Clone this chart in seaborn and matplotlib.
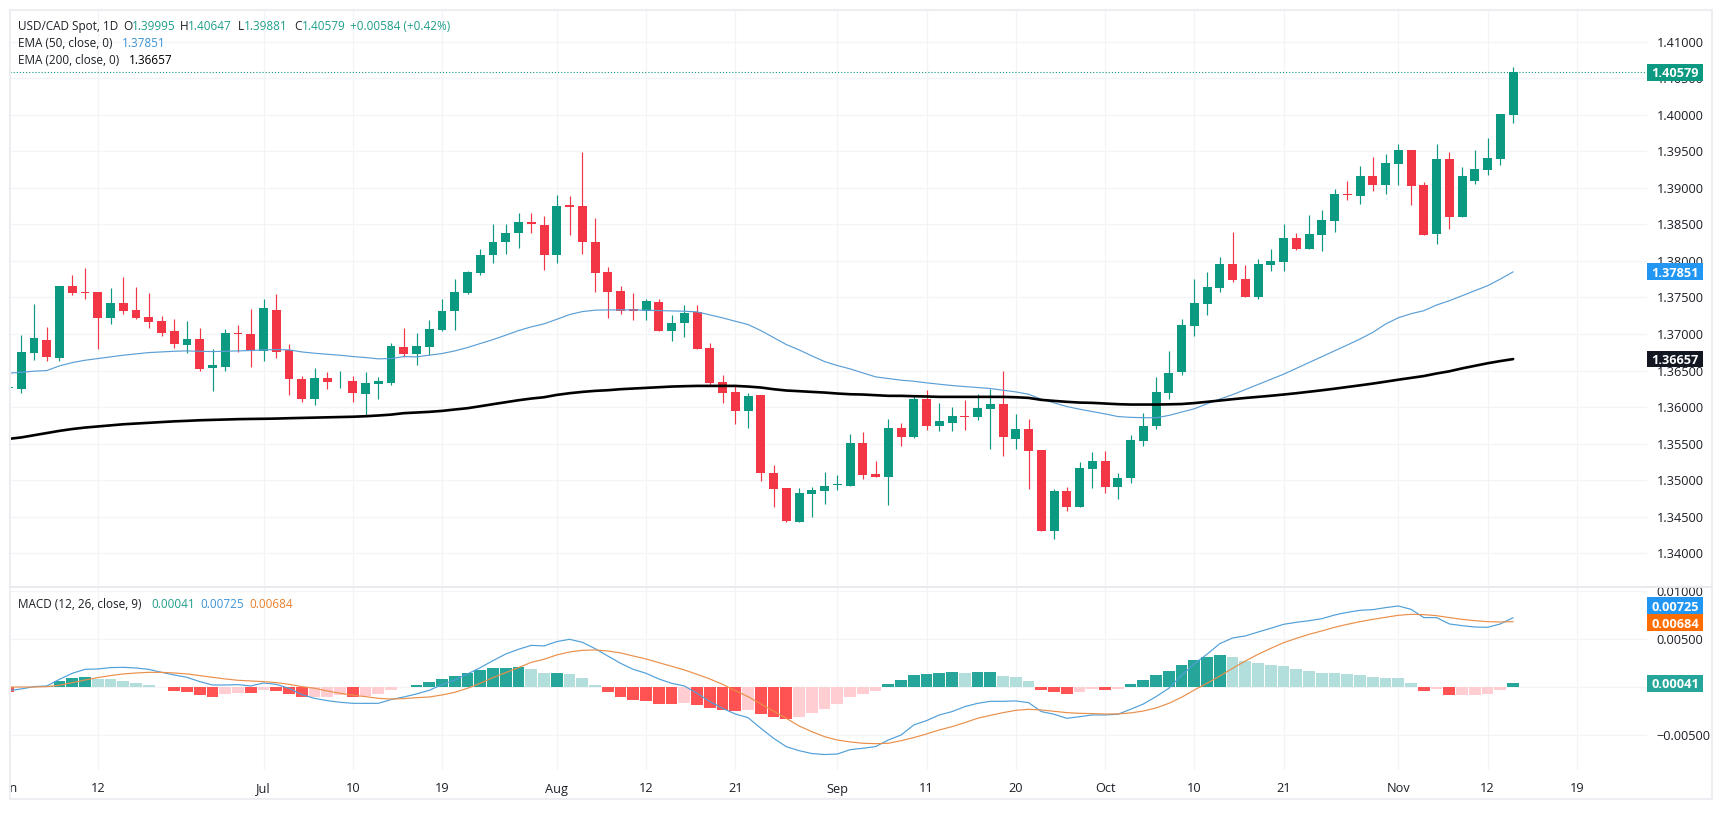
import matplotlib
matplotlib.use("Agg")
import matplotlib.pyplot as plt
from matplotlib.patches import Rectangle
from matplotlib.lines import Line2D
from matplotlib.transforms import IdentityTransform, Bbox
import numpy as np
import pandas as pd
import seaborn as sns

opens = [1.36268,1.36254,1.36746,1.36920,1.36678,1.37658,1.37576,1.37576,1.37225,1.37426,1.37325,1.37234,1.37179,1.37043,1.36856,1.36933,1.36541,1.36555,1.37011,1.37002,
1.36774,1.37330,1.36783,1.36378,1.36105,1.36392,1.36337,1.36351,1.36173,1.36310,1.36333,1.36824,1.36724,1.36829,1.37061,1.37312,1.37567,1.37841,1.38087,1.38256,
1.38379,1.38539,1.38498,1.38078,1.38771,1.38757,1.38265,1.37855,1.37595,1.37348,1.37312,1.37444,1.37047,1.37157,1.37307,1.36815,1.36345,1.36213,1.35953,1.36172,
1.35105,1.34888,1.34422,1.34810,1.34856,1.34936,1.34918,1.35515,1.35078,1.35041,1.35720,1.35588,1.36117,1.35748,1.35789,1.35885,1.35871,1.35980,1.36049,1.35570,
1.35707,1.35410,1.34307,1.34850,1.34631,1.35150,1.35269,1.34900,1.35023,1.35539,1.35740,1.36196,1.36479,1.37114,1.37410,1.37629,1.37958,1.37752,1.37506,1.37944,
1.37985,1.38313,1.38163,1.38354,1.38546,1.38915,1.38888,1.39161,1.39038,1.39326,1.39517,1.39038,1.38368,1.39394,1.38601,1.39093,1.39244,1.39394,1.39995]
closes = [1.36275,1.36755,1.36942,1.36692,1.37658,1.37558,1.37567,1.37225,1.37426,1.37316,1.37225,1.37170,1.37020,1.36865,1.36933,1.36523,1.36578,1.37011,1.37006,1.36774,
1.37357,1.36760,1.36391,1.36105,1.36392,1.36337,1.36347,1.36187,1.36324,1.36351,1.36830,1.36733,1.36838,1.37075,1.37321,1.37581,1.37855,1.38087,1.38265,1.38388,
1.38539,1.38507,1.38078,1.38757,1.38744,1.38256,1.37841,1.37581,1.37321,1.37312,1.37458,1.37047,1.37157,1.37294,1.36801,1.36336,1.36199,1.35953,1.36158,1.35096,
1.34877,1.34441,1.34819,1.34860,1.34924,1.34945,1.35515,1.35068,1.35041,1.35720,1.35588,1.36117,1.35748,1.35803,1.35885,1.35871,1.35994,1.36049,1.35588,1.35707,
1.35406,1.34307,1.34850,1.34631,1.35160,1.35260,1.34900,1.35036,1.35556,1.35745,1.36205,1.36470,1.37126,1.37424,1.37643,1.37958,1.37739,1.37506,1.37958,1.37999,
1.38313,1.38163,1.38368,1.38560,1.38915,1.38902,1.39161,1.39038,1.39339,1.39517,1.39025,1.38354,1.39394,1.38601,1.39161,1.39257,1.39408,1.40010,1.40579]
highs = [1.36300,1.36988,1.37412,1.37093,1.37658,1.37809,1.37909,1.37576,1.37626,1.37786,1.37649,1.37567,1.37248,1.37207,1.37184,1.37079,1.36801,1.37065,1.37125,1.37344,
1.37480,1.37549,1.36860,1.36424,1.36529,1.36479,1.36488,1.36424,1.36479,1.36410,1.36880,1.37084,1.37020,1.37198,1.37485,1.37759,1.37864,1.38169,1.38511,1.38511,
1.38662,1.38662,1.38612,1.38908,1.38894,1.39492,1.38589,1.37923,1.37658,1.37563,1.37485,1.37485,1.37257,1.37403,1.37394,1.36883,1.36436,1.36300,1.36199,1.36172,
1.35214,1.34897,1.34888,1.34910,1.35106,1.35068,1.35638,1.35661,1.35269,1.35844,1.35789,1.36172,1.36240,1.36062,1.36003,1.36094,1.36186,1.36254,1.36491,1.35912,
1.35834,1.35410,1.34877,1.34900,1.35255,1.35388,1.35406,1.35105,1.35616,1.35922,1.36410,1.36762,1.37199,1.37752,1.37844,1.38058,1.38400,1.37944,1.38026,1.38163,
1.38505,1.38382,1.38628,1.38696,1.38979,1.39098,1.39298,1.39421,1.39462,1.39599,1.39517,1.39075,1.39599,1.39494,1.39280,1.39517,1.39681,1.40010,1.40647]
lows = [1.36250,1.36199,1.36646,1.36637,1.36637,1.37535,1.37480,1.36792,1.37138,1.37271,1.37211,1.37088,1.36974,1.36806,1.36746,1.36500,1.36226,1.36495,1.36760,1.36546,
1.36632,1.36669,1.36167,1.36073,1.36023,1.36242,1.36264,1.36073,1.35886,1.36114,1.36304,1.36687,1.36582,1.36710,1.37038,1.37061,1.37544,1.37804,1.37978,1.38092,
1.38178,1.38384,1.37882,1.37978,1.38361,1.38101,1.37576,1.37221,1.37280,1.37193,1.37198,1.37047,1.36902,1.36961,1.36792,1.36286,1.36062,1.35762,1.35716,1.34995,
1.34635,1.34432,1.34422,1.34500,1.34673,1.34863,1.34918,1.35014,1.35041,1.34667,1.35470,1.35579,1.35684,1.35670,1.35670,1.35684,1.35821,1.35424,1.35333,1.35433,
1.34886,1.34307,1.34193,1.34580,1.34631,1.34891,1.34818,1.34736,1.34968,1.35466,1.35694,1.36114,1.36442,1.36968,1.37260,1.37570,1.37707,1.37506,1.37479,1.37862,
1.37866,1.38149,1.38163,1.38131,1.38391,1.38829,1.38774,1.38956,1.38911,1.39038,1.38760,1.38354,1.38231,1.38436,1.38601,1.39052,1.39175,1.39307,1.39881]

ema50 = [1.36464,1.36477,1.36491,1.36500,1.36564,1.36609,1.36641,1.36664,1.36687,1.36710,1.36728,1.36746,1.36755,1.36764,1.36769,1.36764,1.36760,1.36764,1.36769,1.36774,
1.36783,1.36787,1.36783,1.36755,1.36737,1.36723,1.36710,1.36692,1.36678,1.36660,1.36664,1.36692,1.36687,1.36710,1.36733,1.36769,1.36815,1.36870,1.36924,1.36984,
1.37047,1.37098,1.37139,1.37202,1.37266,1.37307,1.37326,1.37330,1.37330,1.37330,1.37326,1.37321,1.37316,1.37312,1.37303,1.37262,1.37221,1.37175,1.37130,1.37047,
1.36952,1.36856,1.36783,1.36701,1.36623,1.36569,1.36523,1.36468,1.36414,1.36391,1.36368,1.36354,1.36332,1.36313,1.36295,1.36281,1.36268,1.36254,1.36231,1.36208,
1.36176,1.36108,1.36058,1.36008,1.35971,1.35939,1.35907,1.35871,1.35860,1.35855,1.35854,1.35886,1.35932,1.35977,1.36046,1.36110,1.36170,1.36240,1.36310,1.36380,
1.36450,1.36530,1.36610,1.36690,1.36770,1.36850,1.36932,1.37023,1.37137,1.37223,1.37278,1.37319,1.37397,1.37456,1.37524,1.37593,1.37661,1.37752,1.37851]
ema200 = [1.35565,1.35585,1.35615,1.35645,1.35675,1.35700,1.35720,1.35735,1.35750,1.35765,1.35775,1.35785,1.35795,1.35805,1.35812,1.35820,1.35825,1.35830,1.35835,1.35838,
1.35840,1.35843,1.35848,1.35852,1.35856,1.35860,1.35864,1.35868,1.35875,1.35885,1.35897,1.35917,1.35926,1.35935,1.35948,1.35967,1.35985,1.36012,1.36040,1.36067,
1.36094,1.36117,1.36135,1.36167,1.36190,1.36208,1.36222,1.36231,1.36245,1.36254,1.36263,1.36272,1.36281,1.36286,1.36290,1.36290,1.36290,1.36290,1.36281,1.36268,
1.36245,1.36227,1.36218,1.36208,1.36199,1.36186,1.36176,1.36172,1.36163,1.36154,1.36154,1.36149,1.36145,1.36140,1.36140,1.36140,1.36140,1.36140,1.36140,1.36135,
1.36126,1.36099,1.36085,1.36072,1.36062,1.36058,1.36049,1.36040,1.36035,1.36035,1.36035,1.36038,1.36042,1.36055,1.36072,1.36090,1.36108,1.36125,1.36140,1.36155,
1.36172,1.36190,1.36210,1.36230,1.36252,1.36275,1.36298,1.36322,1.36348,1.36375,1.36400,1.36425,1.36460,1.36490,1.36530,1.36565,1.36600,1.36630,1.36657]

macd_hist = [-.00045,.00002,.00007,.00010,.00066,.00094,.00108,.00087,.00087,.00066,.00042,.00024,.00003,-.00038,-.00049,-.00080,-.00101,-.00066,-.00062,-.00059,
-.00031,-.00042,-.00069,-.00097,-.00104,-.00097,-.00083,-.00101,-.00087,-.00069,-.00031,.00003,.00024,.00056,.00087,.00115,.00146,.00181,.00201,.00201,
.00208,.00191,.00149,.00149,.00135,.00097,.00024,-.00049,-.00101,-.00132,-.00142,-.00174,-.00174,-.00167,-.00184,-.00212,-.00236,-.00247,-.00236,-.00278,
-.00306,-.00330,-.00306,-.00267,-.00226,-.00174,-.00097,-.00066,-.00038,.00035,.00076,.00128,.00139,.00149,.00160,.00149,.00160,.00160,.00118,.00108,
.00066,-.00028,-.00049,-.00069,-.00049,-.00017,-.00028,-.00014,.00035,.00076,.00128,.00170,.00233,.00285,.00316,.00337,.00316,.00274,.00253,.00233,
.00222,.00191,.00170,.00149,.00149,.00139,.00128,.00108,.00097,.00097,.00045,-.00038,-.00017,-.00080,-.00080,-.00080,-.00069,-.00028,.00041]
hist_shade = list("RGGGGGGggggggRRRRrrRrRRRrrrRrrrGGGGGGGGGGggGgggRRRRRRrRRRRrRRRrrrrrrrGGGGGGgGGgggRRRrrRrGGGGGGGGgggggggggggggggRrRrrrrG")
macd_line = [-.00035,-.00017,.00007,.00014,.00083,.00146,.00187,.00191,.00205,.00208,.00201,.00187,.00156,.00128,.00104,.00059,.00024,.00024,.00028,.00014,
.00045,.00031,-.00010,-.00076,-.00115,-.00139,-.00156,-.00167,-.00167,-.00167,-.00128,-.00101,-.00069,-.00031,.00028,.00076,.00139,.00205,.00278,.00347,
.00396,.00437,.00431,.00476,.00500,.00469,.00403,.00326,.00250,.00187,.00146,.00087,.00042,.00014,-.00062,-.00149,-.00219,-.00278,-.00316,-.00427,
-.00531,-.00618,-.00660,-.00690,-.00700,-.00695,-.00650,-.00635,-.00618,-.00549,-.00497,-.00392,-.00347,-.00288,-.00253,-.00201,-.00167,-.00146,-.00146,-.00142,
-.00160,-.00253,-.00281,-.00323,-.00306,-.00288,-.00288,-.00281,-.00229,-.00174,-.00097,-.00010,.00125,.00245,.00345,.00455,.00514,.00535,.00576,.00615,
.00656,.00677,.00694,.00715,.00753,.00781,.00802,.00809,.00830,.00847,.00812,.00726,.00726,.00660,.00642,.00628,.00625,.00660,.00725]
signal_line = [.00003,.00003,.00003,.00007,.00021,.00049,.00076,.00101,.00122,.00139,.00149,.00156,.00156,.00149,.00139,.00122,.00104,.00087,.00073,.00066,
.00059,.00049,.00031,.00007,-.00010,-.00038,-.00062,-.00083,-.00097,-.00115,-.00122,-.00118,-.00108,-.00101,-.00080,-.00052,-.00010,.00042,.00101,.00153,
.00205,.00260,.00292,.00337,.00368,.00385,.00389,.00378,.00358,.00326,.00295,.00257,.00219,.00181,.00135,.00087,.00031,-.00035,-.00097,-.00174,
-.00247,-.00323,-.00403,-.00462,-.00514,-.00549,-.00569,-.00583,-.00587,-.00583,-.00556,-.00524,-.00486,-.00444,-.00410,-.00368,-.00323,-.00292,-.00264,-.00240,
-.00229,-.00236,-.00250,-.00264,-.00271,-.00274,-.00278,-.00278,-.00267,-.00247,-.00215,-.00167,-.00104,-.00028,.00042,.00118,.00198,.00274,.00344,.00406,
.00465,.00510,.00552,.00587,.00625,.00656,.00684,.00708,.00729,.00750,.00760,.00757,.00746,.00726,.00708,.00694,.00684,.00680,.00684]

time_ticks = [7,20,27,34,43,50,57,65,72,79,86,93,100,109,116,123]
time_labels = ["12","Jul","10","19","Aug","12","21","Sep","11","20","Oct","10","21","Nov","12","19"]
price_ticks = [1.34,1.345,1.35,1.355,1.36,1.365,1.37,1.375,1.38,1.385,1.39,1.395,1.40,1.405,1.41]
macd_ticks = [-0.005,0.0,0.005,0.01]

assert all(len(a) == 119 for a in [opens, closes, highs, lows, ema50, ema200, macd_hist, hist_shade, macd_line, signal_line])

UP = "#0b9981"; DOWN = "#f23645"; BLUE = "#2196f3"; ORANGE = "#ff6d00"; GRID = "#f3f4f8"
FONT = ["Open Sans", "DejaVu Sans"]
TEXT = "#1c1f26"

sns.set_theme(style="white")
plt.rcParams["font.family"] = FONT
W, H = 1723, 835
fig = plt.figure(figsize=(W / 100, H / 100), dpi=100, facecolor="white")

def pane(x0, y0, x1, y1):
    return fig.add_axes([x0 / W, 1 - y1 / H, (x1 - x0) / W, (y1 - y0) / H])

ax = pane(10, 10, 1647, 587)
am = pane(10, 588, 1647, 770)

df = pd.DataFrame({"i": np.arange(119), "o": opens, "c": closes, "h": highs, "l": lows,
                   "ema50": ema50, "ema200": ema200, "hist": macd_hist, "shade": hist_shade,
                   "macd": macd_line, "signal": signal_line})
colors = np.where(df.c >= df.o, UP, DOWN)

# price pane
ax.vlines(df.i, df.l, df.h, colors=colors, lw=0.85, zorder=3)
bh = (df.c - df.o).abs().clip(lower=0.00012)
ax.bar(df.i, bh, bottom=df[["o", "c"]].min(axis=1), width=0.70, color=colors, lw=0, zorder=3)
sns.lineplot(data=df, x="i", y="ema50", color="#5b9fd6", lw=0.85, ax=ax, zorder=4, estimator=None)
sns.lineplot(data=df, x="i", y="ema200", color="black", lw=1.9, ax=ax, zorder=4, estimator=None)
ax.axhline(closes[-1], color=UP, lw=0.8, ls=(0, (1, 1.8)), zorder=2)

# MACD pane
sns.barplot(data=df, x="i", y="hist", hue="shade", dodge=False, native_scale=True, width=0.92,
            palette={"G": "#26a69a", "g": "#b2dfdb", "R": "#ff5252", "r": "#ffcdd2"},
            saturation=1, errorbar=None, legend=False, linewidth=0, ax=am, zorder=2)
sns.lineplot(data=df, x="i", y="macd", color="#4f9fd8", lw=0.85, ax=am, zorder=4, estimator=None)
sns.lineplot(data=df, x="i", y="signal", color="#ea8f4a", lw=0.85, ax=am, zorder=4, estimator=None)

xlim = (0.118, 128.5)
ax.set_xlim(xlim); am.set_xlim(xlim)
ax.set_ylim(1.41 - (587 - 41.7) / 7308, 1.41 + (41.7 - 10) / 7308)
am.set_ylim((687.3 - 770) / 9600, (687.3 - 588) / 9600)

for a, yt in ((ax, price_ticks), (am, macd_ticks)):
    a.set_xticks(time_ticks)
    a.set_yticks(yt)
    a.set_yticklabels(["{:.5f}".format(v).replace("-", "\u2212") for v in yt], fontsize=9.2, color=TEXT)
    a.yaxis.tick_right()
    a.tick_params(axis="y", length=0, pad=7)
    a.tick_params(axis="x", length=0)
    a.grid(True, color=GRID, lw=0.9)
    a.set_axisbelow(True)
    a.set_xlabel(""); a.set_ylabel("")
    for s in a.spines.values():
        s.set_visible(False)
ax.set_xticklabels([])
am.set_xticklabels(time_labels, fontsize=9.2, color=TEXT)
am.tick_params(axis="x", pad=9)
# the cropped month label on the left edge
jun = am.text(0, -0.0104, "Jun", ha="center", va="center", fontsize=9.2, color=TEXT,
              transform=am.transData, clip_on=True)
jun.set_clip_box(Bbox([[10, H - 800], [60, H - 770]]))

# frame and pane separator
fig.add_artist(Rectangle((10 / W, 1 - 799 / H), 1702 / W, 789 / H, transform=fig.transFigure,
                         fc="none", ec="#eceef1", lw=1.5))
fig.add_artist(Line2D([10 / W, 1712 / W], [1 - 587.3 / H] * 2, transform=fig.transFigure, color="#e6e8ec", lw=1.3))

fig.canvas.draw()

def tag(a, value, color, txt, y_override=None):
    y_px = a.transData.transform((1, value))[1] if y_override is None else H - y_override
    fig.add_artist(Rectangle((1647, y_px - 8.4), 56, 16.8, transform=IdentityTransform(), fc=color, ec="none", zorder=5))
    fig.text(1675 / W, y_px / H, txt, ha="center", va="center_baseline", color="white", fontsize=9.2,
             fontweight="bold", zorder=6)

tag(ax, closes[-1], UP, "1.40579")
tag(ax, ema50[-1], BLUE, "1.37851")
tag(ax, ema200[-1], "#131722", "1.36657")
tag(am, macd_line[-1], BLUE, "0.00725", y_override=605.6)
tag(am, signal_line[-1], ORANGE, "0.00684", y_override=622.7)
tag(am, macd_hist[-1], "#26a69a", "0.00041")

def label(x, y, s, c=TEXT):
    fig.text(x / W, 1 - y / H, s, color=c, fontsize=8.5, ha="left", va="center_baseline", zorder=6)

GREEN_T = "#1f9e8a"
label(18, 25, "USD/CAD Spot, 1D")
for x, s, c in [(123, "O", TEXT), (132, "1.39995", GREEN_T), (180, "H", TEXT), (188, "1.40647", GREEN_T),
                (238, "L", TEXT), (244, "1.39881", GREEN_T), (294, "C", TEXT), (302, "1.40579", GREEN_T),
                (350, "+0.00584 (+0.42%)", GREEN_T)]:
    label(x, 25, s, c)
label(18, 42, "EMA (50, close, 0)")
label(122, 42, "1.37851", "#3d94d6")
label(18, 59, "EMA (200, close, 0)")
label(129, 59, "1.36657", "black")
label(18, 603, "MACD (12, 26, close, 9)")
label(151.5, 603, "0.00041", GREEN_T)
label(200, 603, "0.00725", "#3d94d6")
label(249.5, 603, "0.00684", "#ea7f2a")

fig.savefig("out.png", dpi=100, facecolor="white")
